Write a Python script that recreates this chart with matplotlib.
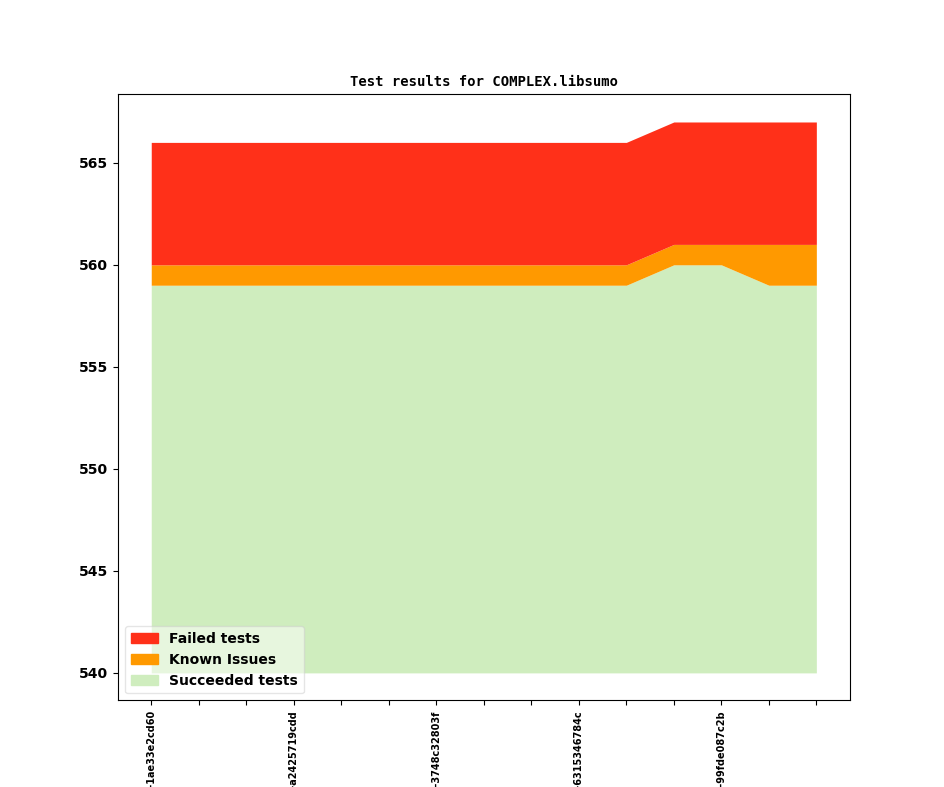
import matplotlib
matplotlib.use("Agg")
import matplotlib.pyplot as plt
from matplotlib.patches import Patch

x = list(range(15))
succeeded = [559, 559, 559, 559, 559, 559, 559, 559, 559, 559, 559, 560, 560, 559, 559]
known = [1, 1, 1, 1, 1, 1, 1, 1, 1, 1, 1, 1, 1, 2, 2]
failed = [6, 6, 6, 6, 6, 6, 6, 6, 6, 6, 6, 6, 6, 6, 6]
base = 540
tick_labels = ["v1_19_0+0412-1ae33e2cd60", "", "", "v1_19_0+0455-a2425719cdd", "", "",
               "v1_19_0+0498-3748c32803f", "", "", "v1_19_0+0530-631534678 4c".replace(" ", ""), "", "",
               "v1_19_0+0571-99fde087c2b", "", ""]

c_fail = "#ff3019"
c_known = "#ff9900"
c_succ = "#cfedbe"

top_s = succeeded
top_k = [s + k for s, k in zip(succeeded, known)]
top_f = [t + f for t, f in zip(top_k, failed)]

fig = plt.figure(figsize=(9.44, 7.87), dpi=100)
ax = fig.add_subplot(111)
ax.fill_between(x, base, top_s, color=c_succ, linewidth=0)
ax.fill_between(x, top_s, top_k, color=c_known, linewidth=0)
ax.fill_between(x, top_k, top_f, color=c_fail, linewidth=0)

ax.set_title("Test results for COMPLEX.libsumo", fontfamily="DejaVu Sans Mono",
             fontweight="bold", fontsize=10)
ax.set_xticks(x)
ax.set_xticklabels(tick_labels, rotation=90, fontsize=7, fontweight="bold")
for lbl in ax.get_yticklabels():
    lbl.set_fontweight("bold")
ax.tick_params(axis="y", labelsize=10)

handles = [Patch(color=c_fail, label="Failed tests"),
           Patch(color=c_known, label="Known Issues"),
           Patch(color=c_succ, label="Succeeded tests")]
ax.legend(handles=handles, loc="lower left", framealpha=0.5,
          prop={"weight": "bold", "size": 10})

fig.savefig("out.png", dpi=100)
